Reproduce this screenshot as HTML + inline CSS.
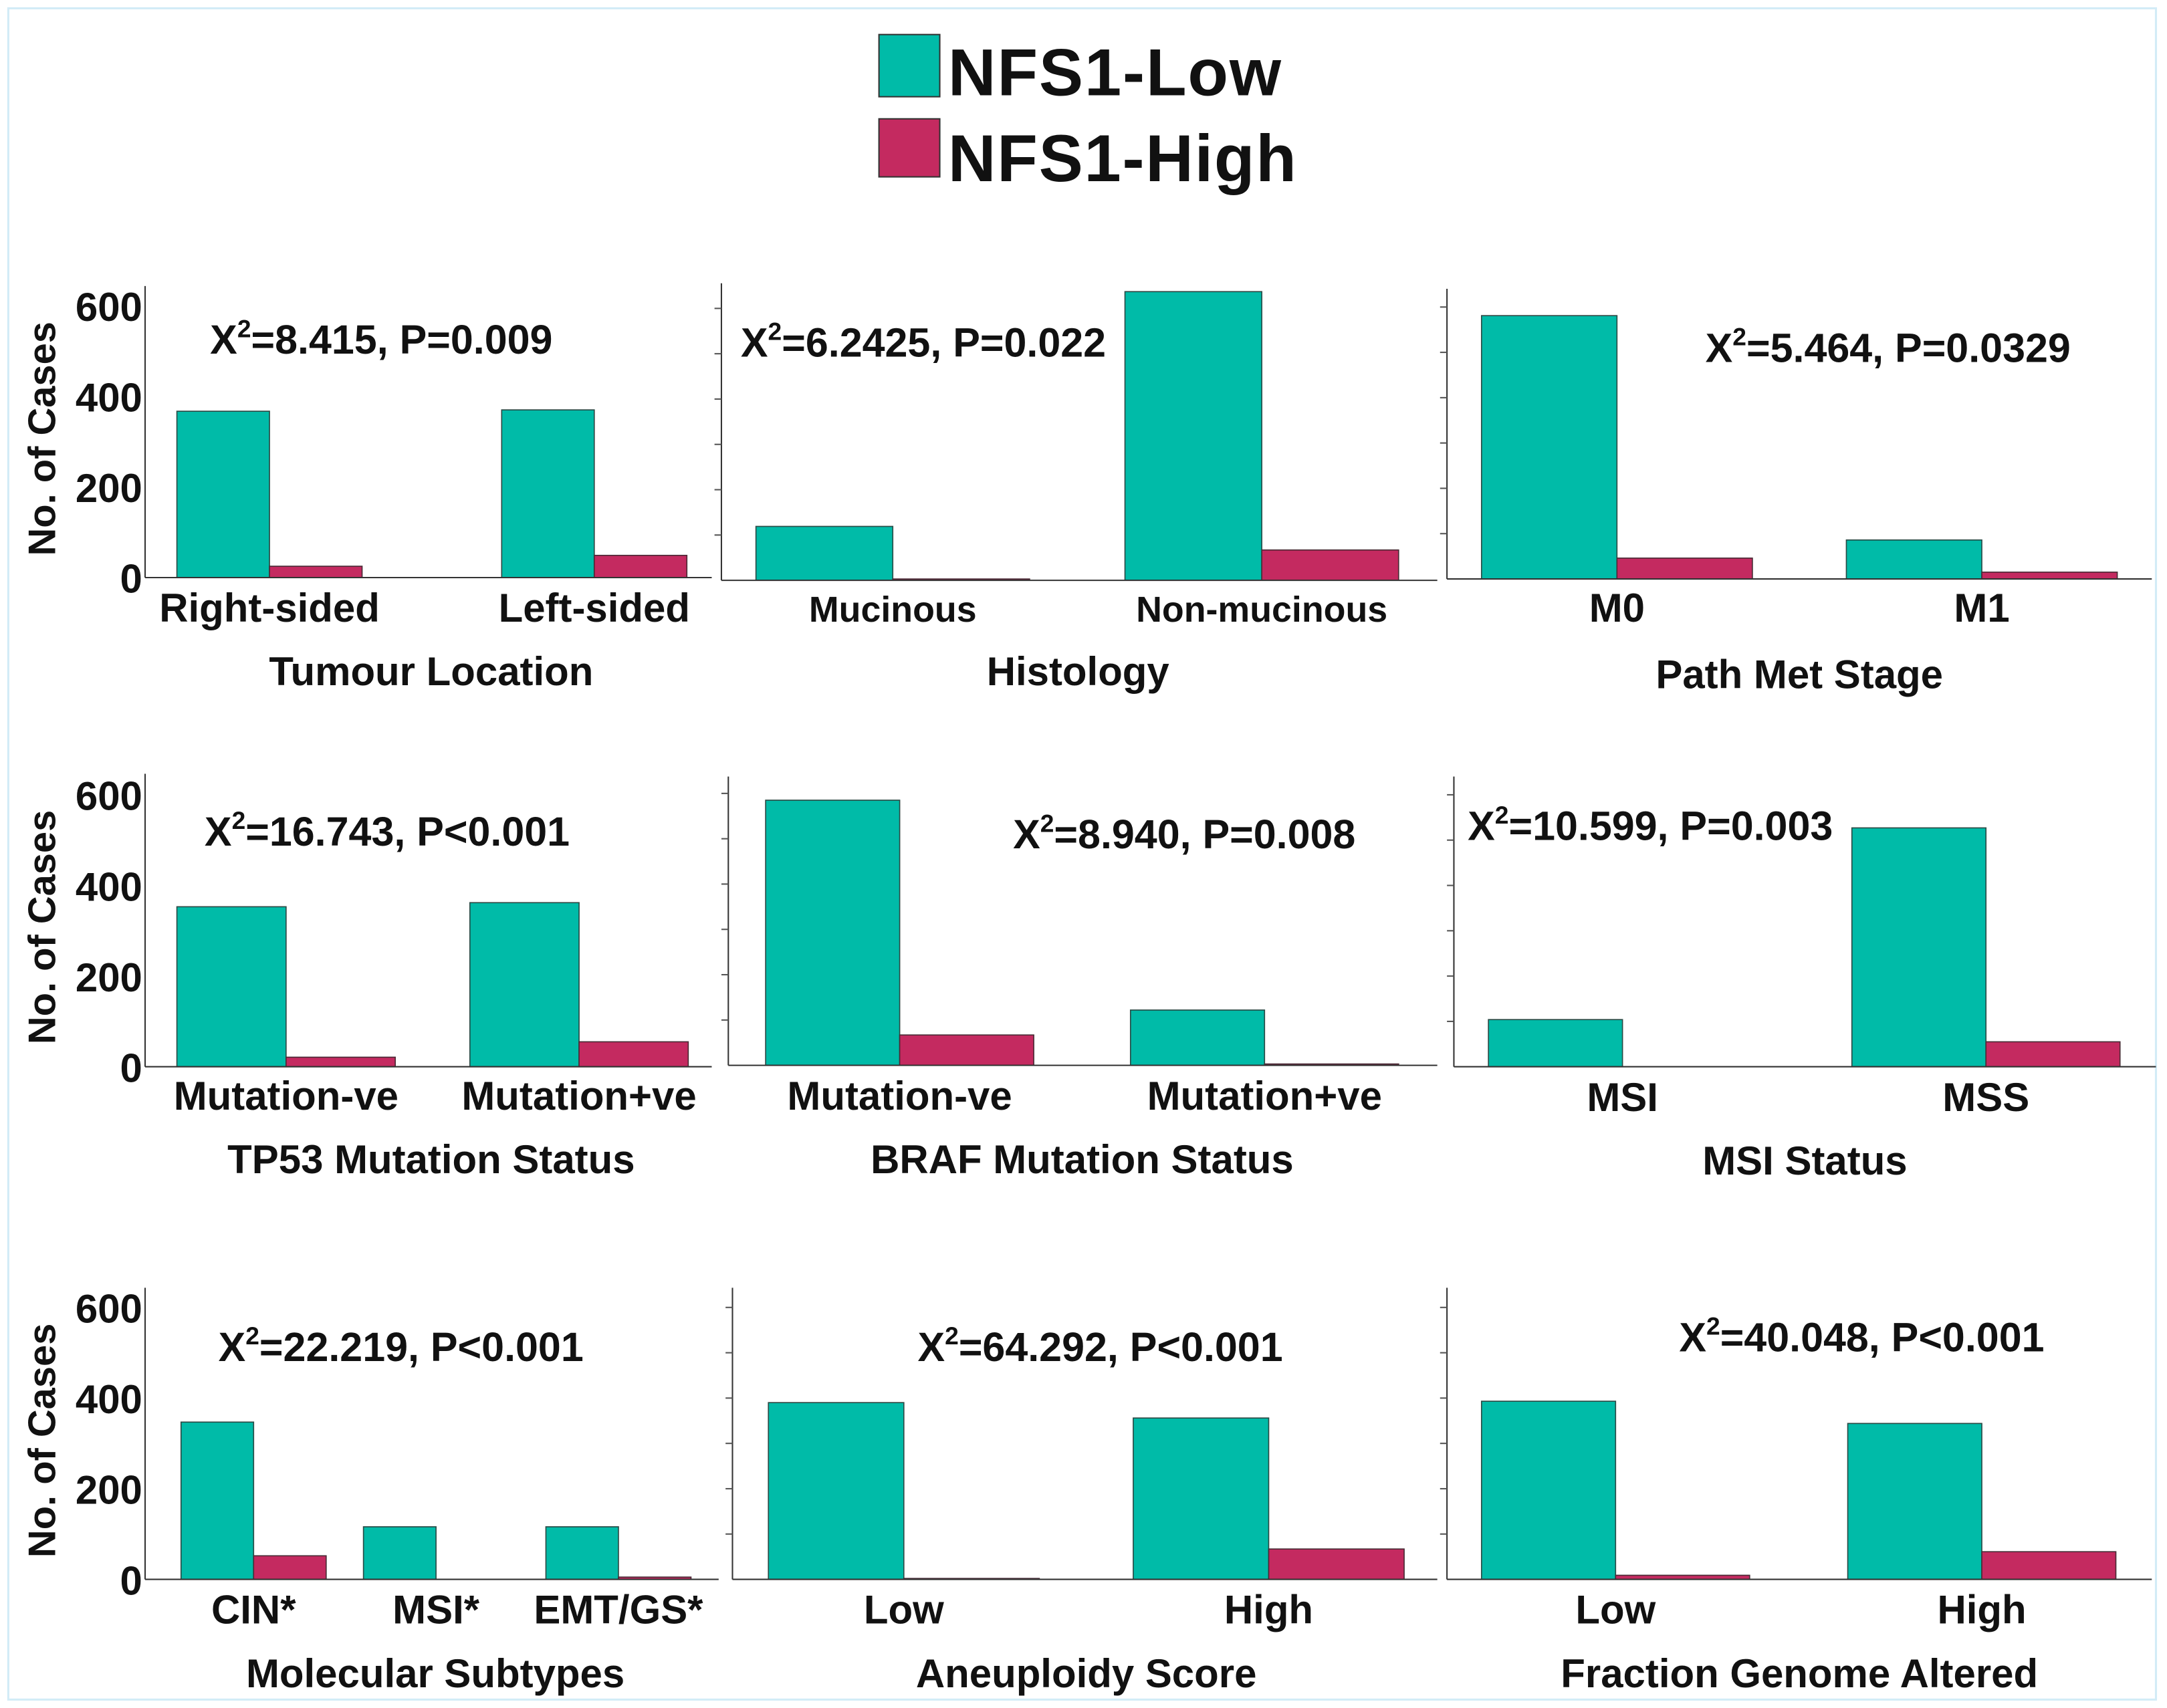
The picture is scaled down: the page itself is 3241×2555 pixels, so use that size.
<!DOCTYPE html>
<html><head><meta charset="utf-8"><style>
html,body{margin:0;padding:0;background:#fff}
svg{display:block}
text{font-family:"Liberation Sans",Arial,sans-serif;font-weight:bold;fill:#111}
</style></head><body>
<svg id="chart" xmlns="http://www.w3.org/2000/svg" width="3241" height="2555" viewBox="0 0 1568 1236.1" preserveAspectRatio="none">
<rect x="6" y="6" width="1554" height="1224" fill="none" stroke="#d2ecf7" stroke-width="1.5"/>
<g>
<rect x="636" y="25" width="44" height="45" fill="#00bba8" stroke="#333" stroke-width="1"/>
<text x="686" y="69" font-size="48" textLength="241">NFS1-Low</text>
<rect x="636" y="86" width="44" height="42" fill="#c42a60" stroke="#333" stroke-width="1"/>
<text x="686" y="131" font-size="48" textLength="252">NFS1-High</text>
</g>
<g id="panels"></g>
</svg>
<script>
const categories = [
 ["Right-sided","Left-sided"],["Mucinous","Non-mucinous"],["M0","M1"],
 ["Mutation-ve","Mutation+ve"],["Mutation-ve","Mutation+ve"],["MSI","MSS"],
 ["CIN*","MSI*","EMT/GS*"],["Low","High"],["Low","High"]];
const lowValues = [[367,370],[119,637],[581,86],[353,362],[585,122],[104,527],[347,116,116],[390,356],[393,344]];
const highValues = [[25,49],[3,67],[46,15],[21,55],[67,3],[0,55],[52,0,5],[2,67],[9,61]];
const axisTitles = ["Tumour Location","Histology","Path Met Stage","TP53 Mutation Status","BRAF Mutation Status","MSI Status","Molecular Subtypes","Aneuploidy Score","Fraction Genome Altered"];
const statLabels = [["8.415","0.009","="],["6.2425","0.022","="],["5.464","0.0329","="],["16.743","0.001","<"],["8.940","0.008","="],["10.599","0.003","="],["22.219","0.001","<"],["64.292","0.001","<"],["40.048","0.001","<"]];
const yTicks = [0,200,400,600];

// layout (pixels, not data)
const layout = [
 {ax:105,x1:515,base:418,top:207,start:128,sp:235,w:67,tx:312,ty:495,cy:450,sx:152,sy:256},
 {ax:522,x1:1040,base:420,top:205,start:547,sp:267,w:99,tx:780,ty:495,cy:450,sx:536,sy:258},
 {ax:1047,x1:1557,base:419,top:209,start:1072,sp:264,w:98,tx:1302,ty:497,cy:450,sx:1234,sy:262},
 {ax:105,x1:515,base:772,top:560,start:128,sp:212,w:79,tx:312,ty:848,cy:803,sx:148,sy:612},
 {ax:527,x1:1040,base:771,top:562,start:554,sp:264,w:97,tx:783,ty:848,cy:803,sx:733,sy:614},
 {ax:1052,x1:1560,base:772,top:562,start:1077,sp:263,w:97,tx:1306,ty:849,cy:804,sx:1062,sy:608},
 {ax:105,x1:520,base:1143,top:932,start:131,sp:132,w:52.5,tx:315,ty:1220,cy:1175,sx:158,sy:985},
 {ax:530,x1:1040,base:1143,top:932,start:556,sp:264,w:98,tx:786,ty:1220,cy:1175,sx:664,sy:985},
 {ax:1047,x1:1557,base:1143,top:932,start:1072,sp:265,w:97,tx:1302,ty:1220,cy:1175,sx:1215,sy:978}];
const pxPerUnit = 0.328;
const NS="http://www.w3.org/2000/svg";
const root=document.getElementById('panels');
function mk(tag,attrs,parent){const e=document.createElementNS(NS,tag);for(const k in attrs)e.setAttribute(k,attrs[k]);parent.appendChild(e);return e;}
layout.forEach((L,p)=>{
 const g=mk('g',{},root);
 
 
 const y=v=>L.base-v*pxPerUnit;
 categories[p].forEach((c,i)=>{
  const x0=L.start+i*L.sp;
  const b1=mk('rect',{x:x0,y:y(lowValues[p][i]),width:L.w,height:lowValues[p][i]*pxPerUnit,fill:'#00bba8',stroke:'#2a4a45','stroke-width':0.8},g);
  
  
  const b2=mk('rect',{x:x0+L.w,y:y(highValues[p][i]),width:L.w,height:highValues[p][i]*pxPerUnit,fill:'#c42a60',stroke:'#4a2a35','stroke-width':0.8},g);
  
  
  const t=mk('text',{x:x0+L.w,y:L.cy,'font-size':(p===1)?26:29,'text-anchor':'middle'},g);
  t.textContent=c;
  
  
 });
 const xa=mk('line',{x1:L.ax,x2:L.x1,y1:L.base,y2:L.base,stroke:'#333','stroke-width':1},g);
 
 
 const ya=mk('line',{x1:L.ax,x2:L.ax,y1:L.top,y2:L.base,stroke:'#333','stroke-width':1},g);
 
 
 if(p%3===0){
  yTicks.forEach(v=>{
   const t=mk('text',{x:L.ax-2,y:y(v)+11,'font-size':29,'text-anchor':'end'},g);
   t.textContent=v;
   
   
  });
  const yt=mk('text',{x:0,y:0,'font-size':28,'text-anchor':'middle',transform:`translate(40 ${(L.top+L.base)/2+5}) rotate(-90)`},g);
  yt.textContent='No. of Cases';
  
  
 } else {
  for(let v=100;v<=600;v+=100){
   const tk=mk('line',{x1:L.ax-5,x2:L.ax,y1:y(v),y2:y(v),stroke:'#555','stroke-width':1},g);
   
   
  }
 }
 const at=mk('text',{x:L.tx,y:L.ty+1,'font-size':29,'text-anchor':'middle'},g);
 at.textContent=axisTitles[p];
 
 
 const s=statLabels[p];
 const st=mk('text',{x:L.sx,y:L.sy,'font-size':29.5},g);
 
 
 st.appendChild(document.createTextNode('X'));
 const sup=mk('tspan',{'font-size':18,dy:-12},st);
 sup.textContent='2';
 const rest=mk('tspan',{dy:12},st);
 rest.textContent='='+s[0]+', P'+s[2]+s[1];
});
</script>
</body></html>
